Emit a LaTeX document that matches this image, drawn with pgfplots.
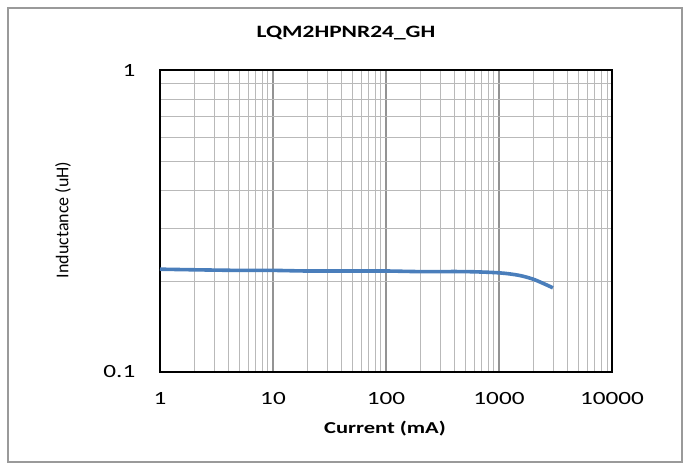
\documentclass[border=0pt]{standalone}
\usepackage{pgfplots}
\pgfplotsset{compat=1.18}
\usepackage{fontspec}
\setmainfont{Carlito}[FakeStretch=1.35]
\newfontfamily\ylabfont{Carlito}

\definecolor{lineblue}{HTML}{4A7EBB}
\definecolor{framegray}{HTML}{9A9A9A}

\begin{document}
\begin{tikzpicture}
  \begin{axis}[
    at={(0pt,0pt)}, anchor=south west,
    scale only axis,
    width=339pt, height=226.5pt,
    xmode=log, ymode=log,
    xmin=1, xmax=10000,
    ymin=0.1, ymax=1,
    xtick={1,10,100,1000,10000},
    xticklabels={1,10,100,1000,10000},
    minor xtick={2,3,4,5,6,7,8,9,20,30,40,50,60,70,80,90,200,300,400,500,600,700,800,900,2000,3000,4000,5000,6000,7000,8000,9000},
    ytick={0.1,1},
    yticklabels={0.1,1},
    minor ytick={0.2,0.3,0.4,0.5,0.6,0.7,0.8,0.9},
    major tick length=0pt, minor tick length=0pt,
    grid=both,
    major grid style={gray!85, line width=0.8pt},
    minor grid style={gray!55, line width=0.5pt},
    axis line style={black, line width=0.8pt},
    tick label style={font=\fontsize{14}{16}\selectfont},
    xticklabel style={yshift=-12pt},
    yticklabel style={xshift=-15pt},
    /pgf/number format/assume math mode=true,
    clip=false,
  ]
    \addplot[lineblue, line width=2.7pt, smooth] coordinates {
      (1,0.219) (2,0.218) (5,0.217) (10,0.217) (20,0.216) (50,0.216)
      (100,0.216) (200,0.215) (500,0.215) (1000,0.213) (1500,0.209)
      (2000,0.203) (2500,0.196) (3000,0.190)
    };
  \end{axis}
  \begin{scope}[x=0.75pt,y=0.75pt]
    % page and outer chart frame, in px measured from the plot's lower left corner
    \useasboundingbox (-160,-98) rectangle (530,372);
    \draw[framegray, line width=0.8pt] (-152,-90) rectangle (522,364);
    \node[font=\bfseries\fontsize{13}{15}\selectfont] at (186,339) {LQM2HPNR24\_GH};
    \node[font=\bfseries\fontsize{12.5}{15}\selectfont] at (225,-57) {Current (mA)};
    \node[rotate=90, font=\ylabfont\fontsize{13.5}{15}\selectfont] at (-97,152) {Inductance (uH)};
  \end{scope}
\end{tikzpicture}
\end{document}
